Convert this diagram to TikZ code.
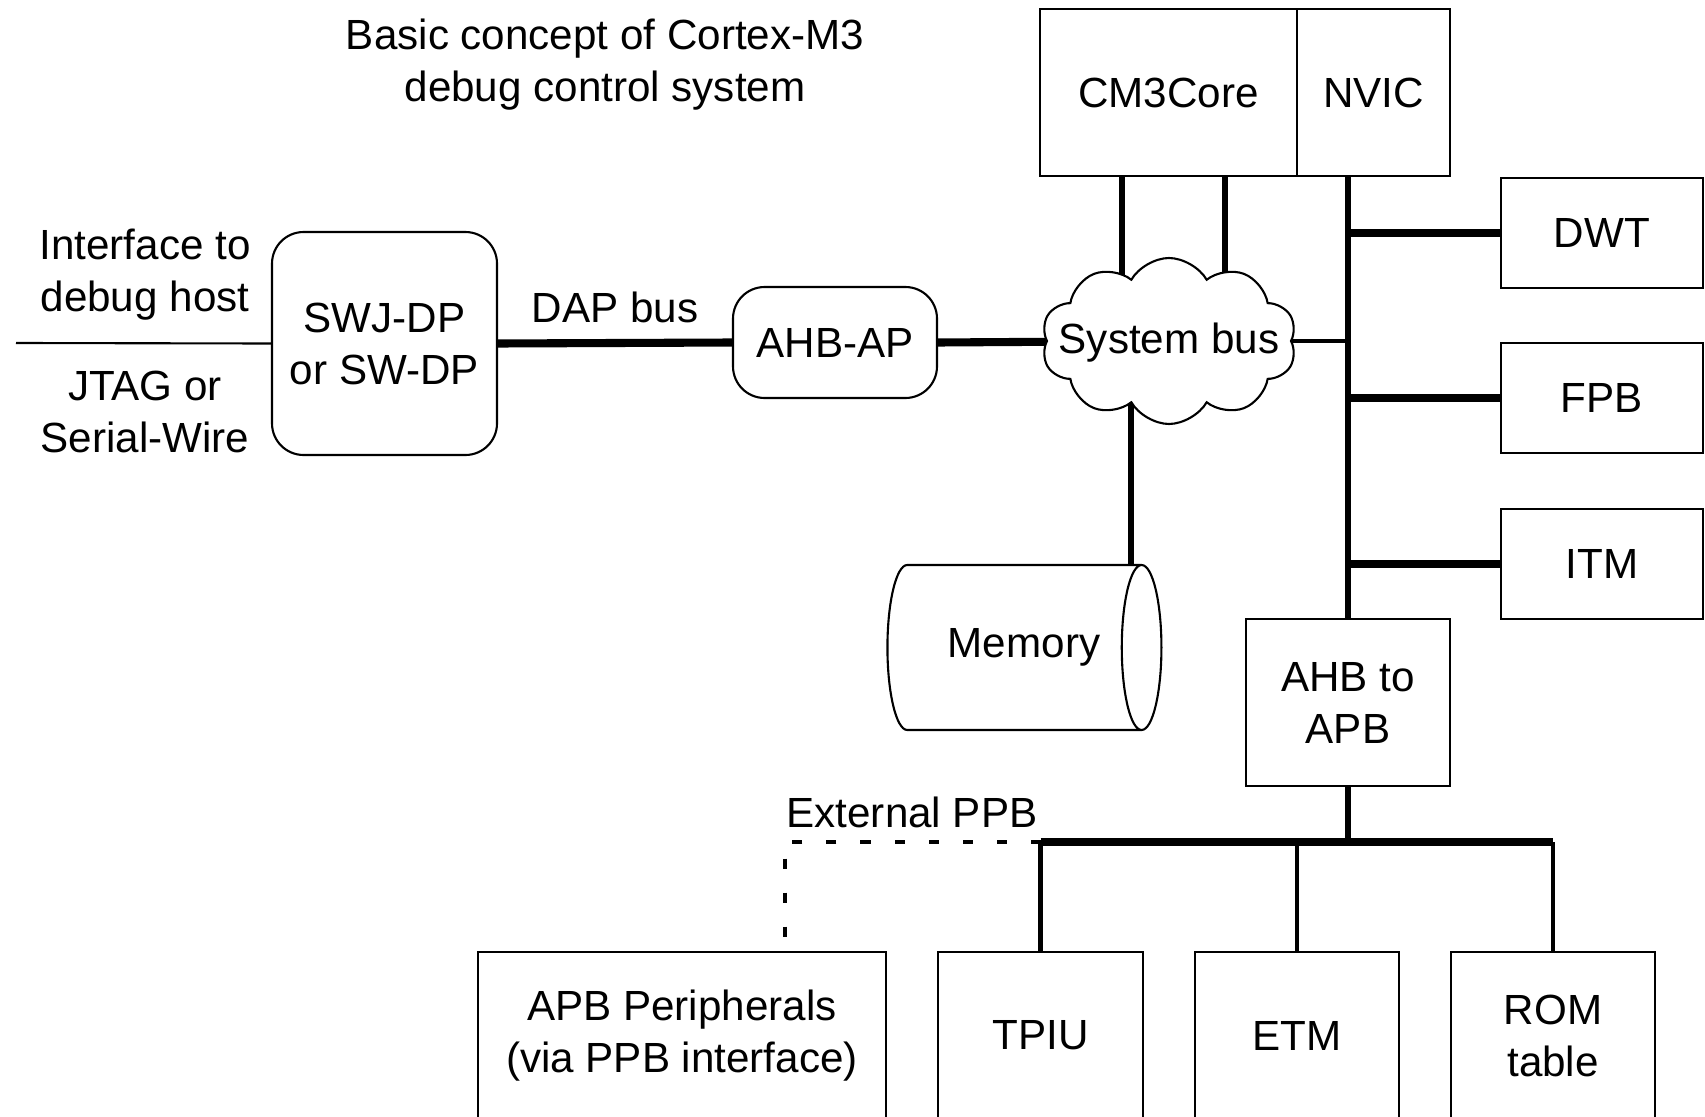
\documentclass[tikz,border=0pt]{standalone}
\usepackage{fontspec}
\setmainfont{Liberation Sans}
\usetikzlibrary{shapes.geometric, shapes.symbols, positioning, calc, backgrounds}

\tikzset{
  blk/.style={rectangle, draw, line width=0.6pt, fill=white, align=center, inner sep=0pt},
  rblk/.style={blk, rounded corners=9pt},
  lbl/.style={align=center, inner sep=0pt},
  wire/.style={line width=1.7pt},
  fatbus/.style={line width=2.3pt},
  stub/.style={line width=1.4pt},
  thinw/.style={line width=0.6pt},
  extppb/.style={line width=1.4pt, dash pattern=on 0.1cm off 0.24cm}
}

\begin{document}
\begin{tikzpicture}[x=1cm, y=-1cm, font=\fontsize{12}{14.8}\selectfont]
  \useasboundingbox (0,0) rectangle (17.05,11.17);

  % Title
  \node[lbl] (title) at (6.05, 0.65) {Basic concept of Cortex-M3\\debug control system};

  % Host side
  \coordinate (host) at (0.16, 3.43);
  \node[lbl] (iface) at (1.45, 2.75) {Interface to\\debug host};
  \node[lbl] (jtag) at (1.45, 4.115) {JTAG or\\Serial-Wire};
  \node[rblk, minimum width=2.25cm, minimum height=2.23cm] (swj) at (3.845, 3.435) {SWJ-DP\\or SW-DP};
  \node[lbl] (dap) at (6.15, 3.07) {DAP bus};
  \node[rblk, minimum width=2.04cm, minimum height=1.11cm] (ahbap) at (8.35, 3.425) {AHB-AP};

  % Core, bus and memory
  \node[blk, minimum width=2.57cm, minimum height=1.67cm] (core) at (11.685, 0.925) {CM3Core};
  \node[blk, minimum width=1.53cm, minimum height=1.67cm] (nvic) at (13.735, 0.925) {NVIC};
  \node[cloud, draw, fill=white, line width=0.6pt, cloud puffs=10, cloud puff arc=120,
        cloud ignores aspect, minimum width=2.55cm, minimum height=1.66cm, inner sep=0pt]
        (sysbus) at (11.69, 3.41) {};
  \node[lbl] (sysbustxt) at (11.69, 3.43) {System bus};
  \node[cylinder, draw, fill=white, line width=0.6pt, aspect=1.05,
        minimum height=2.74cm, minimum width=1.65cm, inner sep=0pt]
        (mem) at (10.14, 6.475) {\hspace*{0.2cm}Memory};

  % Debug components
  \node[blk, minimum width=2.02cm, minimum height=1.10cm] (dwt) at (16.02, 2.33) {DWT};
  \node[blk, minimum width=2.02cm, minimum height=1.10cm] (fpb) at (16.02, 3.98) {FPB};
  \node[blk, minimum width=2.02cm, minimum height=1.10cm] (itm) at (16.02, 5.64) {ITM};
  \node[blk, minimum width=2.04cm, minimum height=1.67cm] (ahbapb) at (13.48, 7.025) {AHB to\\APB};

  % APB side
  \coordinate (hb) at (13.48, 8.42);
  \node[lbl] (ext) at (9.12, 8.12) {External PPB};
  \node[blk, minimum width=4.08cm, minimum height=1.67cm] (apb) at (6.82, 10.355) {APB Peripherals\\(via PPB interface)};
  \node[blk, minimum width=2.05cm, minimum height=1.67cm] (tpiu) at (10.405, 10.355) {TPIU};
  \node[blk, minimum width=2.04cm, minimum height=1.67cm] (etm) at (12.97, 10.355) {ETM};
  \node[blk, minimum width=2.04cm, minimum height=1.67cm] (rom) at (15.53, 10.355) {ROM\\table};

  % Connections
  \begin{scope}[on background layer]
    \fill[white] (0,0) rectangle (17.05,11.17);
    \draw[thinw] (host) -- (swj.west);
    \draw[fatbus] (swj.east) -- (ahbap.west);
    \draw[fatbus] (ahbap.east) -- (sysbus.center);
    \draw[wire] ([xshift=-0.465cm]core.south) -- ([xshift=-0.465cm]core.south |- sysbus.center);
    \draw[wire] ([xshift=0.565cm]core.south) -- ([xshift=0.565cm]core.south |- sysbus.center);
    \draw[wire] ([xshift=1.17cm]mem.north) -- ([xshift=1.17cm]mem.north |- sysbus.center);
    \draw[stub] (sysbus.center) -- (sysbus.center -| ahbapb.north);
    \draw[wire] (ahbapb.north |- nvic.south) -- (ahbapb.north);
    \foreach \b in {dwt,fpb,itm}
      \draw[fatbus] (\b.west -| ahbapb.north) -- (\b.west);
    \draw[wire] (ahbapb.south) -- (hb);
    \draw[fatbus] (tpiu.north |- hb) -- (rom.north |- hb);
    \foreach \b in {tpiu,etm,rom}
      \draw[stub] (\b.north |- hb) -- (\b.north);
    \draw[extppb, shorten >=0.09cm] (tpiu.north |- hb) -| ([xshift=1.03cm]apb.north);
  \end{scope}
\end{tikzpicture}
\end{document}
